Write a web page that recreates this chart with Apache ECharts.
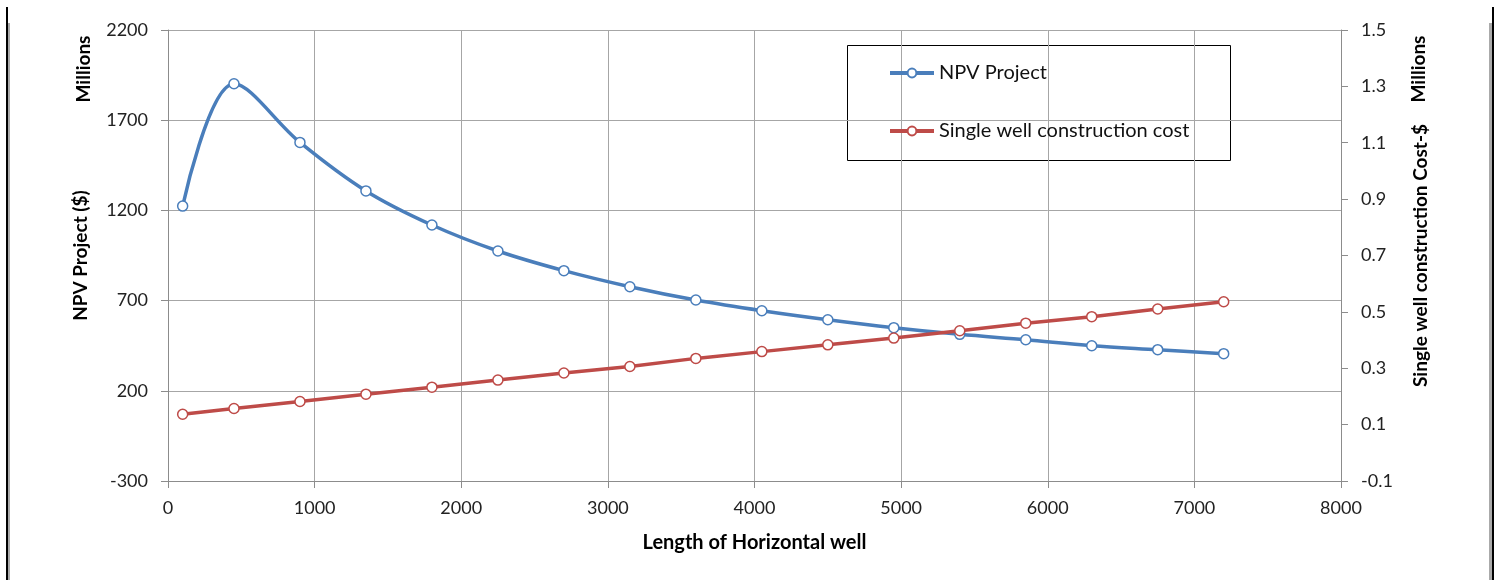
<!DOCTYPE html>
<html>
<head>
<meta charset="utf-8">
<script src="https://cdn.jsdelivr.net/npm/echarts@6/dist/echarts.min.js"></script>
<style>
  html, body { margin: 0; padding: 0; background: #fff; }
  #chart { width: 1494px; height: 580px; }
  .edge { position: absolute; }
</style>
</head>
<body>
<div id="chart"></div>
<div class="edge" style="left:6px;top:7px;width:2px;height:573px;background:#000"></div>
<div class="edge" style="left:8px;top:23px;width:2px;height:557px;background:#aaa"></div>
<div class="edge" style="left:1492px;top:7px;width:2px;height:573px;background:#000"></div>
<div class="edge" style="left:1489px;top:23px;width:3px;height:557px;background:#aaa"></div>
<script>
var wellLength = [100, 450, 900, 1350, 1800, 2250, 2700, 3150, 3600, 4050, 4500, 4950, 5400, 5850, 6300, 6750, 7200];
var npvProject = [1224, 1902, 1577, 1308, 1119, 975, 866, 777, 703, 644, 594, 550, 513, 483, 450, 428, 406];
var wellCost = [0.137, 0.157, 0.182, 0.208, 0.233, 0.258, 0.283, 0.306, 0.335, 0.359, 0.383, 0.407, 0.433, 0.460, 0.483, 0.510, 0.536];

var blue = '#4a7ebb';
var red = '#be4b48';
var font = 'Lato, "Liberation Sans", sans-serif';

function pairs(xs, ys) {
  return xs.map(function (x, i) { return [x, ys[i]]; });
}
function plain(v) {
  return String(v);
}

var myChart = echarts.init(document.getElementById('chart'));

option = {
  animation: false,
  textStyle: { fontFamily: font },
  grid: {
    left: 168,
    right: 153,
    top: 30,
    bottom: 99
  },
  legend: {
    orient: 'vertical',
    left: 888,
    top: 63,
    padding: 0,
    itemWidth: 44,
    itemHeight: 11,
    itemGap: 38,
    lineStyle: { width: 4 },
    textStyle: { fontSize: 20, color: '#111', fontFamily: font },
    data: ['NPV Project', 'Single well construction cost']
  },
  graphic: [
    {
      type: 'rect',
      shape: { x: 847.5, y: 45.5, width: 383, height: 115 },
      style: { fill: '#fff', stroke: '#000', lineWidth: 1 },
      z: 0
    },
    {
      type: 'text',
      x: 84, y: 69,
      rotation: Math.PI / 2,
      style: { text: 'Millions', font: 'bold 19px ' + font, fill: '#000', align: 'center', verticalAlign: 'middle' }
    },
    {
      type: 'text',
      x: 1419, y: 69,
      rotation: Math.PI / 2,
      style: { text: 'Millions', font: 'bold 19px ' + font, fill: '#000', align: 'center', verticalAlign: 'middle' }
    }
  ],
  xAxis: {
    type: 'value',
    min: 0,
    max: 8000,
    interval: 1000,
    name: 'Length of Horizontal well',
    nameLocation: 'middle',
    nameGap: 52,
    nameTextStyle: { fontSize: 20, fontWeight: 'bold', color: '#000' },
    axisLine: { show: true, onZero: false, lineStyle: { color: '#8c8c8c' } },
    axisTick: { show: true, length: 7, lineStyle: { color: '#8c8c8c' } },
    axisLabel: { fontSize: 18, color: '#222', margin: 18, formatter: plain },
    splitLine: { show: true, lineStyle: { color: '#a6a6a6' } }
  },
  yAxis: [
    {
      type: 'value',
      min: -300,
      max: 2200,
      interval: 500,
      name: 'NPV Project ($)',
      nameLocation: 'middle',
      nameGap: 78,
      nameTextStyle: { fontSize: 19, fontWeight: 'bold', color: '#000' },
      axisLine: { show: true, onZero: false, lineStyle: { color: '#8c8c8c' } },
      axisTick: { show: true, length: 7, lineStyle: { color: '#8c8c8c' } },
      axisLabel: { fontSize: 18, color: '#222', margin: 20, formatter: plain },
      splitLine: { show: true, lineStyle: { color: '#a6a6a6' } }
    },
    {
      type: 'value',
      position: 'right',
      min: -0.1,
      max: 1.5,
      interval: 0.2,
      name: 'Single well construction Cost-$',
      nameLocation: 'middle',
      nameGap: 70,
      nameRotate: 90,
      nameTextStyle: { fontSize: 19, fontWeight: 'bold', color: '#000' },
      axisLine: { show: true, onZero: false, lineStyle: { color: '#8c8c8c' } },
      axisTick: { show: true, length: 7, lineStyle: { color: '#8c8c8c' } },
      axisLabel: { fontSize: 18, color: '#222', margin: 20 },
      splitLine: { show: false }
    }
  ],
  series: [
    {
      name: 'NPV Project',
      type: 'line',
      yAxisIndex: 0,
      smooth: 0.35,
      data: pairs(wellLength, npvProject),
      symbol: 'circle',
      symbolSize: 10,
      lineStyle: { color: blue, width: 3.5 },
      itemStyle: { color: '#fff', borderColor: blue, borderWidth: 1.5 },
      z: 3
    },
    {
      name: 'Single well construction cost',
      type: 'line',
      yAxisIndex: 1,
      data: pairs(wellLength, wellCost),
      symbol: 'circle',
      symbolSize: 10,
      lineStyle: { color: red, width: 3.5 },
      itemStyle: { color: '#fff', borderColor: red, borderWidth: 1.5 },
      z: 4
    }
  ]
};

myChart.setOption(option);

window.addEventListener('resize', function () {
  myChart.resize();
});
</script>
</body>
</html>
